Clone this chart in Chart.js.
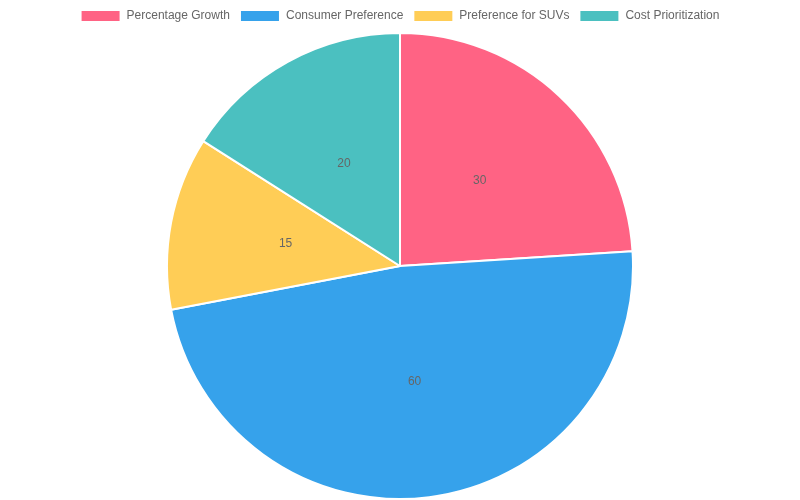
<!DOCTYPE html>
<html><head><meta charset="utf-8">
<script src="https://cdn.jsdelivr.net/npm/chart.js@4/dist/chart.umd.min.js"></script>
<style>html,body{margin:0;padding:0;background:#fff}#w{width:800px;height:500px}</style>
</head><body><div id="w"><canvas id="c"></canvas></div>
<script>
const categories = ["Percentage Growth","Consumer Preference","Preference for SUVs","Cost Prioritization"];
const values = [30,60,15,20];
const colors = ["rgb(255,99,132)","rgb(54,162,235)","rgb(255,205,86)","rgb(75,192,192)"];
const labelPlugin = {
  id:'lbl',
  afterDatasetsDraw(chart){
    const ctx=chart.ctx;
    chart.getDatasetMeta(0).data.forEach((arc,i)=>{
      const a=(arc.startAngle+arc.endAngle)/2, r=arc.outerRadius*0.5;
      ctx.save();ctx.fillStyle='#666';ctx.font='12px Arial, "Liberation Sans"';
      ctx.textAlign='center';ctx.textBaseline='middle';
      ctx.fillText(String(values[i]),arc.x+Math.cos(a)*r,arc.y+Math.sin(a)*r);
      ctx.restore();
    });
  }
};
Chart.defaults.font.family='Arial, "Liberation Sans", sans-serif';
new Chart(document.getElementById('c'),{
  type:'pie',
  data:{labels:categories,datasets:[{data:values,backgroundColor:colors,borderColor:'#fff',borderWidth:2}]},
  options:{responsive:true,maintainAspectRatio:false,animation:false,
    plugins:{legend:{position:'top',labels:{color:'#666'}},tooltip:{enabled:false}}},
  plugins:[labelPlugin]
});
</script></body></html>
